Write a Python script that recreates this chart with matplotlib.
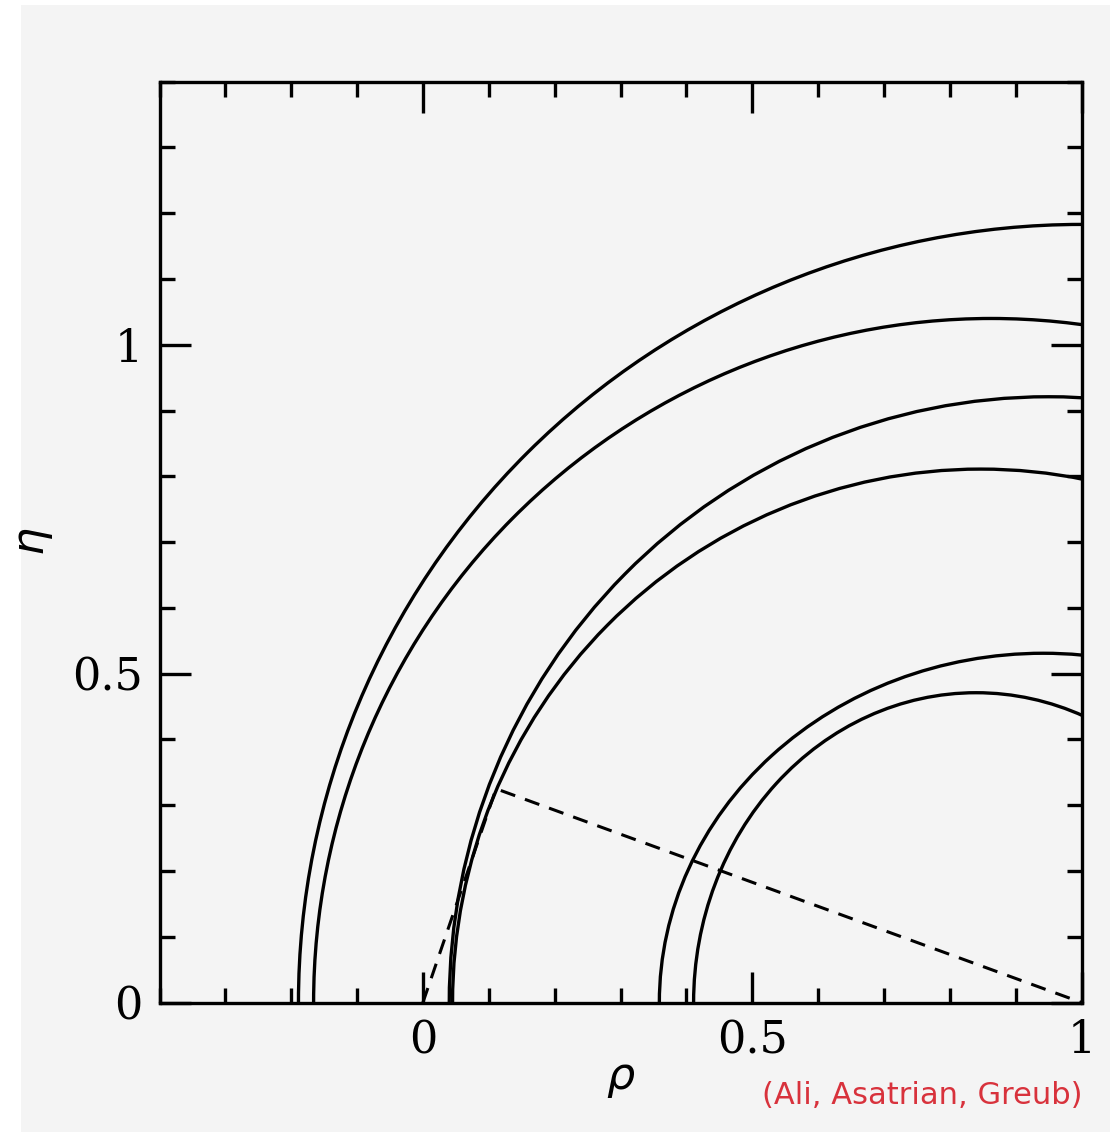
import matplotlib
matplotlib.use("Agg")
import matplotlib.pyplot as plt
from matplotlib.patches import Arc, Rectangle
from matplotlib.ticker import MultipleLocator, FixedLocator

# --------- data ---------
# constraint contours, upper half ellipses centred on the rho axis
arc_centre_rho = [1.000, 0.863, 0.950, 0.847, 0.942, 0.840]
arc_half_width = [1.189, 1.029, 0.910, 0.802, 0.583, 0.429]
arc_half_height = [1.183, 1.040, 0.921, 0.811, 0.531, 0.471]

# unitarity triangle (dashed)
triangle_rho = [0.0, 0.111, 1.0]
triangle_eta = [0.0, 0.325, 0.0]

x_major = [0, 0.5, 1]
x_labels = ["0", "0.5", "1"]
y_major = [0, 0.5, 1]
y_labels = ["0", "0.5", "1"]
credit = "(Ali, Asatrian, Greub)"
# ----------------------------------------------

BG = "#f4f4f4"
fig = plt.figure(figsize=(11.10, 11.32), dpi=100, facecolor="white")
fig.patches.append(Rectangle((21 / 1110, 0), 1 - 21 / 1110, 1 - 5 / 1132,
                             transform=fig.transFigure, facecolor=BG,
                             edgecolor="none", zorder=-10))

ax = fig.add_axes([159.5 / 1110, 1 - 1002.5 / 1132, 922 / 1110, 920.8 / 1132])
ax.set_facecolor(BG)

for c, a, b in zip(arc_centre_rho, arc_half_width, arc_half_height):
    ax.add_patch(Arc((c, 0), 2 * a, 2 * b, theta1=0, theta2=180,
                     color="black", lw=2.4, clip_on=True))

ax.plot(triangle_rho, triangle_eta, color="black", lw=2.2,
        linestyle=(0, (5.0, 3.4)))

ax.set_xlim(-0.4, 1.0)
ax.set_ylim(0, 1.4)

ax.xaxis.set_major_locator(FixedLocator(x_major))
ax.xaxis.set_minor_locator(MultipleLocator(0.1))
ax.yaxis.set_major_locator(FixedLocator(y_major))
ax.yaxis.set_minor_locator(MultipleLocator(0.1))
ax.set_xticklabels(x_labels)
ax.set_yticklabels(y_labels)

ax.tick_params(which="both", direction="in", top=True, right=True,
               width=2.4, color="black")
ax.tick_params(which="major", length=22, labelsize=32, pad=12)
ax.tick_params(which="minor", length=11)
for lab in ax.get_xticklabels() + ax.get_yticklabels():
    lab.set_family("DejaVu Serif")
for sp in ax.spines.values():
    sp.set_linewidth(2.4)

ax.set_xlabel(r"$\rho$", fontsize=32, labelpad=-4)
ax.set_ylabel(r"$\eta$", fontsize=32, labelpad=12)

fig.text(1083 / 1110, 1 - 1110 / 1132, credit, color="#d8323c",
         fontsize=22, ha="right", va="bottom", family="DejaVu Sans")

fig.savefig("out.png", dpi=100, facecolor=fig.get_facecolor())
